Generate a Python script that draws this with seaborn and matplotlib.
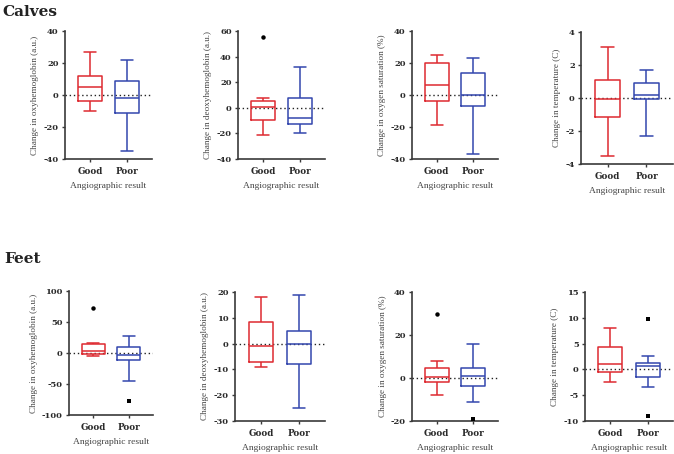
import numpy as np
import pandas as pd
import matplotlib
matplotlib.use("Agg")
import matplotlib.pyplot as plt
import seaborn as sns

groups = ["Good", "Poor"]

# five-number summaries per group: whisker low, Q1, median, Q3, whisker high
calf_oxy_good = [-10, -3.5, 5, 12, 27]
calf_oxy_poor = [-35, -11, -2, 9, 22]
calf_deoxy_good = [-21, -9.6, 1, 5.4, 8]
calf_deoxy_poor = [-20, -12.7, -8, 7.5, 32]
calf_sat_good = [-19, -3.5, 6, 20, 25]
calf_sat_poor = [-37, -6.6, 0, 14, 23]
calf_temp_good = [-3.5, -1.13, -0.08, 1.07, 3.1]
calf_temp_poor = [-2.3, -0.04, 0.2, 0.92, 1.7]

feet_oxy_good = [-5, -1, 3, 14, 16]
feet_oxy_poor = [-45, -12, -3, 9.5, 28]
feet_deoxy_good = [-9, -7, -1, 8.4, 18]
feet_deoxy_poor = [-25, -7.8, 0, 4.9, 19]
feet_sat_good = [-8, -1.7, 0.6, 4.8, 8]
feet_sat_poor = [-11, -3.7, 1, 4.8, 16]
feet_temp_good = [-2.4, -0.6, 1.1, 4.3, 8]
feet_temp_poor = [-3.5, -1.4, 0.6, 1.2, 2.6]

# outliers
calf_deoxy_out_good = [55]
feet_oxy_out_good = [73]
feet_oxy_out_poor = [-78]
feet_sat_out_good = [30]
feet_sat_out_poor = [-19]
feet_temp_out_poor = [9.7, -9]

ylabels = ["Change in oxyhemoglobin (a.u.)", "Change in deoxyhemoglobin (a.u.)",
           "Change in oxygen saturation (%)", "Change in temperature (C)"]
calf_ticks = [[-40, -20, 0, 20, 40], [-40, -20, 0, 20, 40, 60],
              [-40, -20, 0, 20, 40], [-4, -2, 0, 2, 4]]
feet_ticks = [[-100, -50, 0, 50, 100], [-30, -20, -10, 0, 10, 20],
              [-20, 0, 20, 40], [-10, -5, 0, 5, 10, 15]]

red = "#DE2A30"
blue = "#3346AE"
W, H = 674, 454

sns.set_theme(style="ticks")
plt.rcParams["font.family"] = ["Liberation Serif", "DejaVu Serif"]
plt.rcParams["axes.unicode_minus"] = False
bold_font = ["DejaVu Serif"]

fig = plt.figure(figsize=(W / 100, H / 100), dpi=100)

# pixel boxes: left, top, right, bottom
boxes = [(65, 31, 152, 159), (238, 31, 325, 159), (412, 31, 498, 159), (581, 32, 673, 164),
         (69, 291, 153, 415), (235, 292, 325, 421), (412, 292, 498, 421), (585, 292, 673, 421)]

panels = [
    (calf_oxy_good, calf_oxy_poor, [], [], calf_ticks[0], ylabels[0]),
    (calf_deoxy_good, calf_deoxy_poor, calf_deoxy_out_good, [], calf_ticks[1], ylabels[1]),
    (calf_sat_good, calf_sat_poor, [], [], calf_ticks[2], ylabels[2]),
    (calf_temp_good, calf_temp_poor, [], [], calf_ticks[3], ylabels[3]),
    (feet_oxy_good, feet_oxy_poor, feet_oxy_out_good, feet_oxy_out_poor, feet_ticks[0], ylabels[0]),
    (feet_deoxy_good, feet_deoxy_poor, [], [], feet_ticks[1], ylabels[1]),
    (feet_sat_good, feet_sat_poor, feet_sat_out_good, feet_sat_out_poor, feet_ticks[2], ylabels[2]),
    (feet_temp_good, feet_temp_poor, [], feet_temp_out_poor, feet_ticks[3], ylabels[3]),
]

for (l, t, r, b), (good, poor, out_g, out_p, ticks, ylab) in zip(boxes, panels):
    ax = fig.add_axes([l / W, 1 - b / H, (r - l) / W, (b - t) / H])
    df = pd.DataFrame({"group": ["Good"] * len(good) + ["Poor"] * len(poor),
                       "value": good + poor})
    ax.axhline(0, color="#222222", lw=1.0, ls=(0, (1, 2)), zorder=0)
    sns.boxplot(data=df, x="group", y="value", hue="group", order=groups,
                palette=[red, blue], fill=False, whis=(0, 100), width=0.65,
                linewidth=1.1, legend=False, ax=ax)
    if out_g:
        sns.stripplot(x=["Good"] * len(out_g), y=out_g, order=groups, jitter=False,
                      color="black", marker="o", size=3.2, ax=ax)
    if out_p:
        sns.stripplot(x=["Poor"] * len(out_p), y=out_p, order=groups, jitter=False,
                      color="black", marker="s", size=3.2, ax=ax)
    ax.set_xlim(-0.68, 1.68)
    ax.set_ylim(ticks[0], ticks[-1])
    ax.set_yticks(ticks)
    ax.set_xticks([0, 1])
    ax.set_xticklabels(groups, fontweight="bold", fontsize=6.3, color="#2a2a2a",
                       family=bold_font)
    for lab in ax.get_yticklabels():
        lab.set_fontweight("bold")
        lab.set_fontsize(6.0)
        lab.set_family(bold_font)
        lab.set_color("#2a2a2a")
    ax.set_ylabel(ylab, fontsize=6.6, color="#444444", labelpad=3)
    ax.set_xlabel("Angiographic result", fontsize=6.8, color="#444444", labelpad=4)
    for s in ["top", "right"]:
        ax.spines[s].set_visible(False)
    for s in ["left", "bottom"]:
        ax.spines[s].set_color("#3a3a3a")
        ax.spines[s].set_linewidth(1.2)
    ax.tick_params(axis="both", length=2.5, width=1.0, color="#3a3a3a", pad=2)
    ax.tick_params(axis="x", pad=3.5)

fig.text(0.003, 1 - 16 / H, "Calves", fontsize=11, fontweight="bold", color="#222222",
         family=bold_font)
fig.text(0.006, 1 - 263 / H, "Feet", fontsize=11, fontweight="bold", color="#222222",
         family=bold_font)

fig.savefig("out.png", dpi=100)
